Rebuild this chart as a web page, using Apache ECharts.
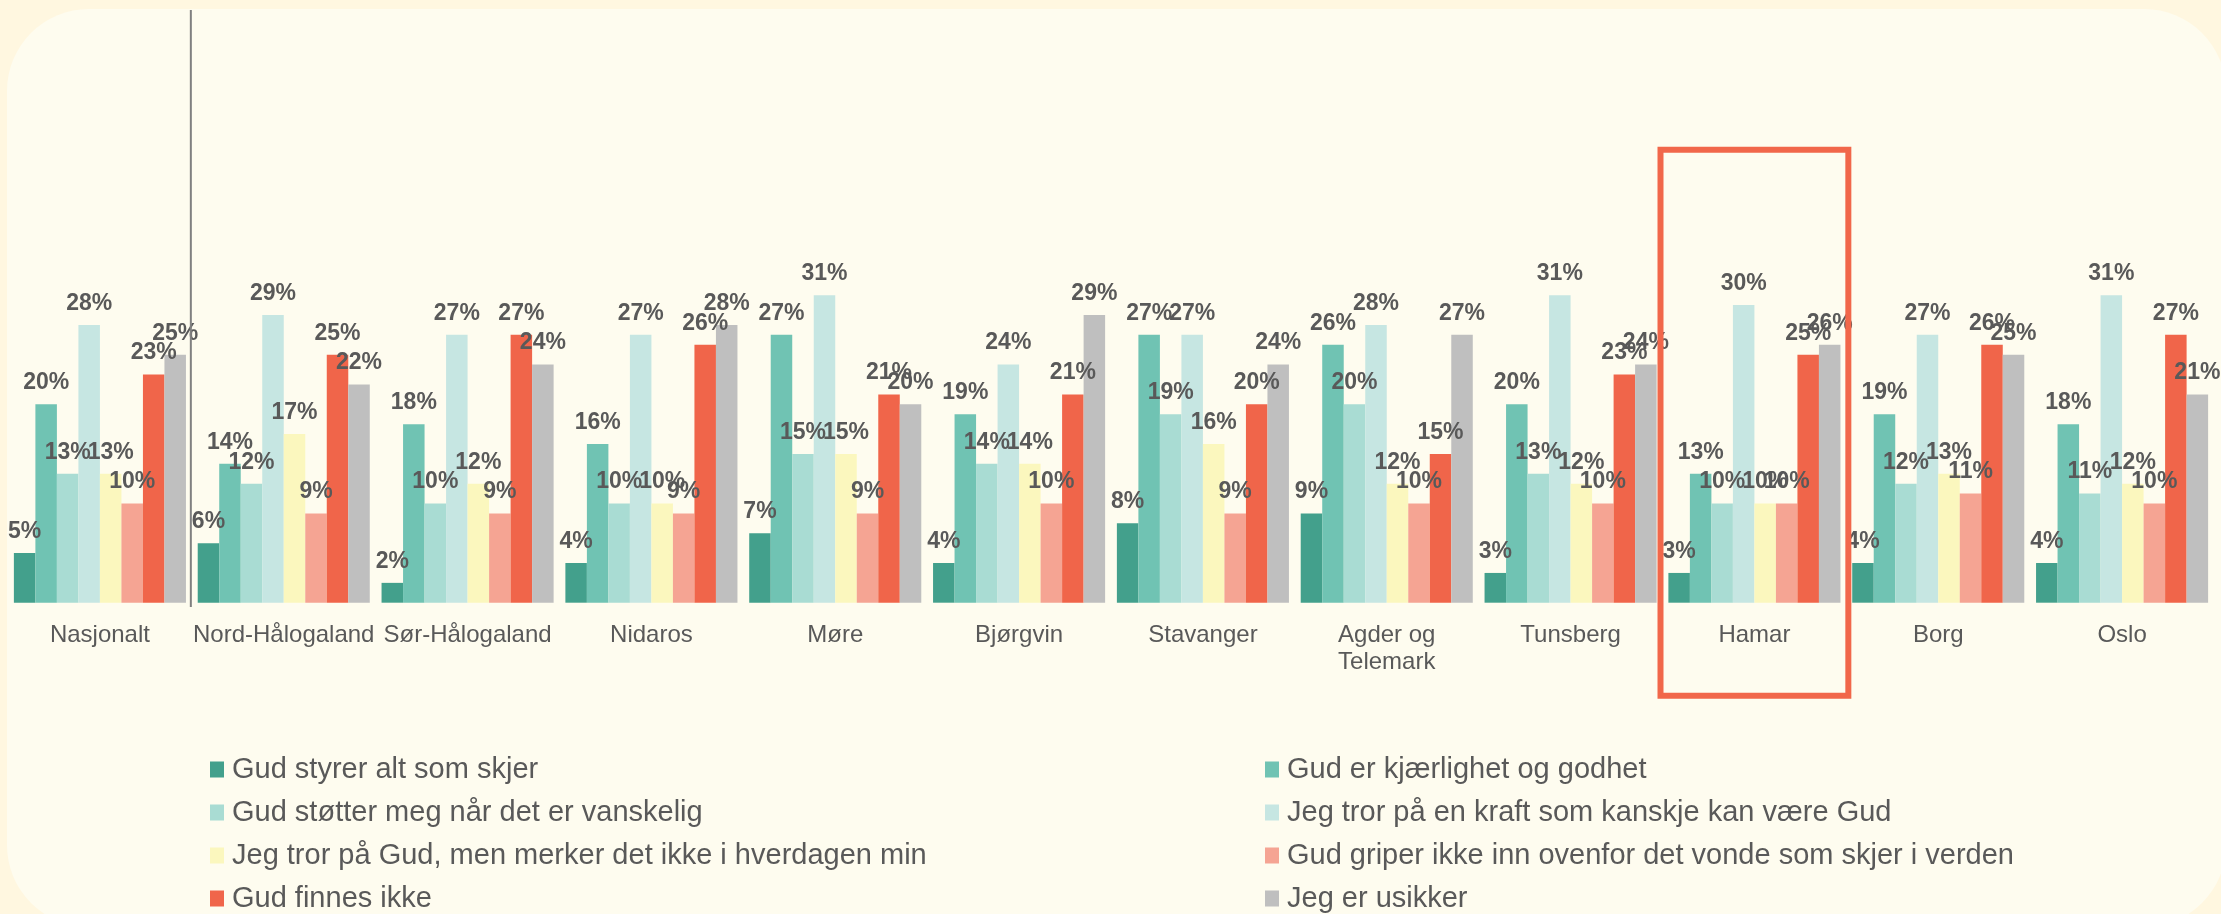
<!DOCTYPE html>
<html lang="no">
<head>
<meta charset="utf-8">
<title>Gudsbilde etter bispedømme</title>
<script src="https://cdn.jsdelivr.net/npm/echarts@6/dist/echarts.min.js"></script>
<style>
  html, body { margin: 0; padding: 0; background: #FFF7E0; }
  #chart { width: 2221px; height: 914px; }
</style>
</head>
<body>
<div id="chart"></div>
<script>
// Categories (Nasjonalt + bispedømmer)
const categories = ['Nasjonalt', 'Nord-Hålogaland', 'Sør-Hålogaland', 'Nidaros', 'Møre', 'Bjørgvin',
  'Stavanger', 'Agder og\nTelemark', 'Tunsberg', 'Hamar', 'Borg', 'Oslo'];

// Answer options
const seriesNames = [
  'Gud styrer alt som skjer',
  'Gud er kjærlighet og godhet',
  'Gud støtter meg når det er vanskelig',
  'Jeg tror på en kraft som kanskje kan være Gud',
  'Jeg tror på Gud, men merker det ikke i hverdagen min',
  'Gud griper ikke inn ovenfor det vonde som skjer i verden',
  'Gud finnes ikke',
  'Jeg er usikker'
];

// Shares in percent, one array per answer option, in category order
const styrerAlt     = [5, 6, 2, 4, 7, 4, 8, 9, 3, 3, 4, 4];
const kjaerlighet   = [20, 14, 18, 16, 27, 19, 27, 26, 20, 13, 19, 18];
const stotter       = [13, 12, 10, 10, 15, 14, 19, 20, 13, 10, 12, 11];
const kraft         = [28, 29, 27, 27, 31, 24, 27, 28, 31, 30, 27, 31];
const merkerIkke    = [13, 17, 12, 10, 15, 14, 16, 12, 12, 10, 13, 12];
const griperIkke    = [10, 9, 9, 9, 9, 10, 9, 10, 10, 10, 11, 10];
const finnesIkke    = [23, 25, 27, 26, 21, 21, 20, 15, 23, 25, 26, 27];
const usikker       = [25, 22, 24, 28, 20, 29, 24, 27, 24, 26, 25, 21];

const seriesValues = [styrerAlt, kjaerlighet, stotter, kraft, merkerIkke, griperIkke, finnesIkke, usikker];

const colors = ['#43A08C', '#70C3B3', '#A9DCD3', '#C6E6E2', '#FBF7BE', '#F5A493', '#F0654A', '#BFBFBF'];

const highlighted = 'Hamar';
const textColor = '#595959';
const fontFamily = '"Liberation Sans", Arial, sans-serif';

const chart = echarts.init(document.getElementById('chart'), null, { renderer: 'canvas' });

const series = seriesNames.map((name, i) => ({
  name: name,
  type: 'bar',
  data: seriesValues[i],
  barGap: '0%',
  barCategoryGap: '6.4%',
  itemStyle: { color: colors[i] },
  label: {
    show: true,
    position: 'top',
    distance: 10,
    formatter: '{c}%',
    color: textColor,
    fontSize: 23,
    fontWeight: 'bold',
    fontFamily: fontFamily
  },
  emphasis: { disabled: true }
}));

const legendCommon = {
  orient: 'vertical',
  top: 755,
  padding: 0,
  itemGap: 14,
  itemWidth: 14,
  itemHeight: 16,
  icon: 'rect',
  selectedMode: false,
  textStyle: {
    color: textColor,
    fontSize: 29,
    lineHeight: 29,
    fontFamily: fontFamily,
    padding: [0, 0, 0, 3]
  }
};

chart.setOption({
  backgroundColor: '#FFF7E0',
  animation: false,
  color: colors,
  grid: { left: 8, right: 7, top: 255.5, bottom: 311.3, containLabel: false },
  xAxis: {
    type: 'category',
    data: categories,
    axisLine: { show: false },
    axisTick: { show: false },
    splitLine: { show: false },
    axisLabel: {
      color: textColor,
      fontSize: 24,
      lineHeight: 27,
      margin: 19,
      interval: 0,
      fontFamily: fontFamily
    }
  },
  yAxis: {
    type: 'value',
    min: 0,
    max: 35,
    show: false,
    splitLine: { show: false }
  },
  legend: [
    Object.assign({}, legendCommon, { left: 210, data: [seriesNames[0], seriesNames[2], seriesNames[4], seriesNames[6]] }),
    Object.assign({}, legendCommon, { left: 1265, data: [seriesNames[1], seriesNames[3], seriesNames[5], seriesNames[7]] })
  ],
  series: series
});

// Decorations placed through the category axis scale
const bandWidth = chart.convertToPixel({ xAxisIndex: 0 }, categories[1]) - chart.convertToPixel({ xAxisIndex: 0 }, categories[0]);
const separatorX = chart.convertToPixel({ xAxisIndex: 0 }, categories[0]) + bandWidth / 2;
const boxCenter = chart.convertToPixel({ xAxisIndex: 0 }, highlighted);

chart.setOption({
  graphic: [
    {
      type: 'rect',
      z: -10,
      silent: true,
      shape: { x: 7, y: 9, width: 2219, height: 918, r: 82 },
      style: { fill: '#FEFCEF' }
    },
    {
      type: 'line',
      z: 10,
      silent: true,
      shape: { x1: separatorX - 1, y1: 10, x2: separatorX - 1, y2: 607 },
      style: { stroke: '#808080', lineWidth: 2 }
    },
    {
      type: 'rect',
      z: 10,
      silent: true,
      shape: { x: boxCenter - bandWidth / 2 - 2, y: 149.7, width: bandWidth + 4, height: 546 },
      style: { fill: 'none', stroke: '#F1674A', lineWidth: 6 }
    }
  ]
});
</script>
</body>
</html>
